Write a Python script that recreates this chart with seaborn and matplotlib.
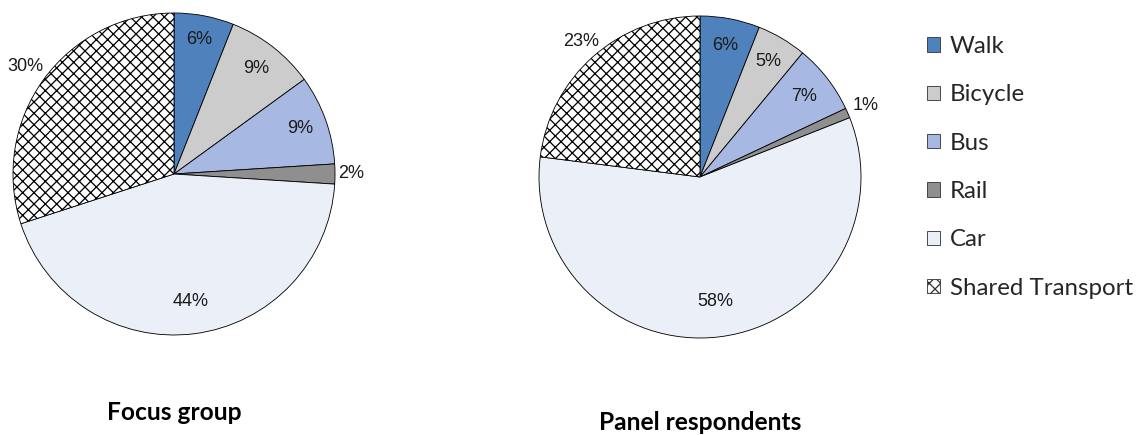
import matplotlib
matplotlib.use("Agg")
import numpy as np
import matplotlib.pyplot as plt
import seaborn as sns

# Travel mode shares (%)
modes = ["Walk", "Bicycle", "Bus", "Rail", "Car", "Shared Transport"]
focus_group = [6, 9, 9, 2, 44, 30]
panel_respondents = [6, 5, 7, 1, 58, 23]
panel_titles = ["Focus group", "Panel respondents"]

mode_colors = ["#4F81BD", "#CCCCCC", "#A7B9E2", "#8F8F8F", "#EBEFF8", "#FFFFFF"]
mode_hatches = [None, None, None, None, None, "xx"]

sns.set_theme(style="white")
plt.rcParams["hatch.linewidth"] = 1.35
plt.rcParams["hatch.color"] = "#303030"

DPI = 68
W, H = 1139, 435


def pt(px):
    """Convert a pixel size to points at the figure dpi."""
    return px * 72.0 / DPI


label_font = ["Liberation Sans Narrow", "Liberation Sans", "DejaVu Sans"]
text_font = ["Lato", "Open Sans", "DejaVu Sans"]

fig = plt.figure(figsize=(W / DPI, H / DPI), dpi=DPI, facecolor="white")


def draw_pie(cx, cy, r, values, label_dist, title, title_y):
    ax = fig.add_axes([(cx - r) / W, (H - cy - r) / H, 2 * r / W, 2 * r / H])
    wedges, _ = ax.pie(
        values,
        colors=mode_colors,
        startangle=90,
        counterclock=False,
        radius=1.0,
        wedgeprops=dict(edgecolor="black", linewidth=0.9),
    )
    for w, h in zip(wedges, mode_hatches):
        if h:
            w.set_hatch(h)
    # percentage labels placed along each slice's mid-angle
    total = float(sum(values))
    start = 90.0
    for v, d in zip(values, label_dist):
        span = 360.0 * v / total
        mid = np.deg2rad(start - span / 2)
        ax.text(d * np.cos(mid), d * np.sin(mid), f"{v}%",
                ha="center", va="center", fontsize=pt(18),
                family=label_font, color="#1a1a1a")
        start -= span
    ax.set_xlim(-1, 1)
    ax.set_ylim(-1, 1)
    ax.set_aspect("equal")
    ax.axis("off")
    fig.text(cx / W, 1 - title_y / H, title, ha="center", va="center",
             fontsize=pt(24.5), fontweight="bold", family=text_font, color="black")
    return wedges


wedges = draw_pie(174, 174, 161, focus_group,
                  [0.85, 0.83, 0.83, 1.10, 0.80, 1.14], panel_titles[0], 413)
draw_pie(700, 177, 161, panel_respondents,
         [0.83, 0.83, 0.82, 1.12, 0.78, 1.12], panel_titles[1], 423)

fs = pt(24)
leg = fig.legend(
    wedges, modes,
    loc="upper left",
    bbox_to_anchor=(927 / W, 1 - 36 / H),
    frameon=False,
    prop=dict(family=text_font, size=fs),
    handlelength=0.54, handleheight=0.54,
    handletextpad=0.42,
    labelspacing=1.14,
    borderaxespad=0, borderpad=0,
)
for h in leg.legend_handles:
    h.set_linewidth(0.9)
    h.set_edgecolor("#333333")

fig.savefig("out.png", dpi=DPI, facecolor="white")
